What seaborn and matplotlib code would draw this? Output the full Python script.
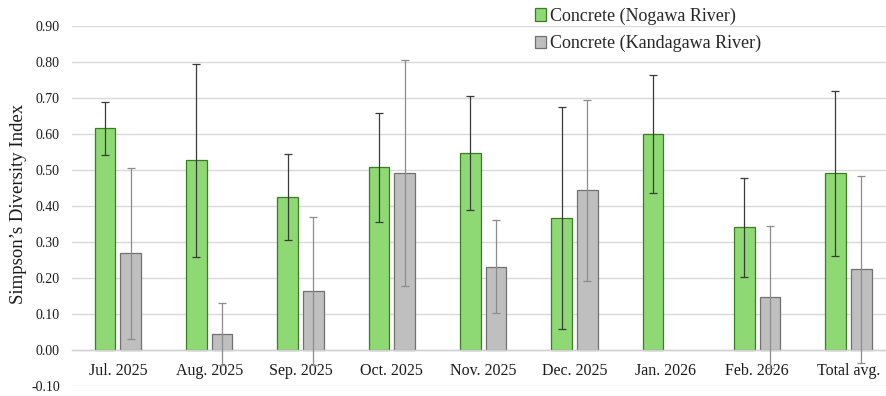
import numpy as np
import pandas as pd
import matplotlib
matplotlib.use("Agg")
import matplotlib.pyplot as plt
import matplotlib.ticker as mticker
from matplotlib.patches import Patch
import seaborn as sns

# Monthly Simpson's diversity index (mean ± SD) for two concrete revetments
months = ["Jul. 2025", "Aug. 2025", "Sep. 2025", "Oct. 2025", "Nov. 2025",
          "Dec. 2025", "Jan. 2026", "Feb. 2026", "Total avg."]
sites = ["Concrete (Nogawa River)", "Concrete (Kandagawa River)"]

nogawa_mean = [0.615, 0.527, 0.424, 0.507, 0.546, 0.366, 0.600, 0.341, 0.491]
nogawa_sd = [0.074, 0.268, 0.119, 0.152, 0.158, 0.308, 0.164, 0.137, 0.229]
kanda_mean = [0.269, 0.044, 0.164, 0.491, 0.232, 0.444, np.nan, 0.148, 0.225]
kanda_sd = [0.237, 0.086, 0.206, 0.314, 0.129, 0.251, np.nan, 0.197, 0.259]

yticks = [-0.1, 0.0, 0.1, 0.2, 0.3, 0.4, 0.5, 0.6, 0.7, 0.8, 0.9]

fill_colors = ["#8ED973", "#BFBFBF"]
edge_colors = ["#3A7D22", "#707070"]
err_colors = ["#3A3A3A", "#8C8C8C"]

df = pd.DataFrame({
    "Month": months * 2,
    "Site": [sites[0]] * len(months) + [sites[1]] * len(months),
    "Index": nogawa_mean + kanda_mean,
    "SD": nogawa_sd + kanda_sd,
})
df["Month"] = pd.Categorical(df["Month"], categories=months, ordered=True)
df = df.dropna(subset=["Index"]).reset_index(drop=True)

sns.set_style("white")
plt.rcParams["font.family"] = ["Liberation Serif", "DejaVu Serif"]
plt.rcParams["axes.unicode_minus"] = False

W, H = 887, 396
fig = plt.figure(figsize=(W / 100, H / 100), dpi=100)
x0, x1, ytop, ybot = 72.3, 894.0, 25.7, 386.4
ax = fig.add_axes([x0 / W, (H - ybot) / H, (x1 - x0) / W, (ybot - ytop) / H])

sns.barplot(data=df, x="Month", y="Index", hue="Site", hue_order=sites,
            order=months, palette=fill_colors, saturation=1, width=0.564,
            gap=0.195, errorbar=None, legend=False, ax=ax, zorder=2)

# Per-series bar edges and SD error bars
for i, (site, container) in enumerate(zip(sites, ax.containers)):
    sub = df[df["Site"] == site].sort_values("Month")
    for patch, (_, row) in zip(container.patches, sub.iterrows()):
        patch.set_edgecolor(edge_colors[i])
        patch.set_linewidth(0.9)
        xc = patch.get_x() + patch.get_width() / 2
        ax.errorbar(xc, row["Index"], yerr=row["SD"], fmt="none",
                    ecolor=err_colors[i], elinewidth=0.9, capsize=2.6,
                    capthick=0.9, zorder=4)

ax.set_xlim(-0.5, len(months) - 0.5)
ax.set_ylim(-0.1, 0.9)
ax.set_yticks(yticks)
ax.yaxis.set_major_formatter(mticker.FormatStrFormatter("%.2f"))
ax.yaxis.grid(True, color="#D9D9D9", linewidth=1.0)
ax.set_axisbelow(True)

for side in ["top", "right", "left"]:
    ax.spines[side].set_visible(False)
ax.spines["bottom"].set_position(("data", 0.0))
ax.spines["bottom"].set_color("#D0D0D0")
ax.spines["bottom"].set_linewidth(1.0)

ax.set_xticks(range(len(months)))
ax.set_xticklabels(months)
ax.set_xticks(np.arange(-0.5, len(months), 1.0), minor=True)
ax.tick_params(axis="x", which="major", length=0, pad=9, labelsize=11.5,
               colors="#1A1A1A")
ax.tick_params(axis="x", which="minor", length=5, width=1.0,
               color="#D0D0D0", direction="out")
ax.tick_params(axis="y", length=0, pad=9, labelsize=10, colors="#1A1A1A")

ax.set_xlabel("")
ax.set_ylabel("")
fig.text(18.5 / W, 1 - 204 / H, "Simpson\u2019s Diversity Index",
         rotation=90, ha="center", va="center", fontsize=13.5, color="#1A1A1A")

handles = [Patch(facecolor=fill_colors[i], edgecolor=edge_colors[i],
                 linewidth=0.9) for i in range(2)]
fig.legend(handles, sites, loc="upper left",
           bbox_to_anchor=(531 / W, 1 - 4 / H), frameon=False, fontsize=13,
           handlelength=0.65, handleheight=0.65, handletextpad=0.2,
           labelspacing=0.55, borderaxespad=0, borderpad=0.2)

fig.savefig("out.png", dpi=100)
